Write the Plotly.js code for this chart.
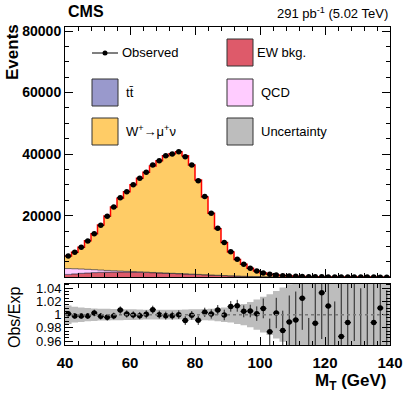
<!DOCTYPE html>
<html><head><meta charset="utf-8">
<script src="https://cdn.plot.ly/plotly-3.0.1.min.js"></script>
<style>html,body{margin:0;padding:0;background:#fff}</style>
</head><body>
<div id="chart" style="width:407px;height:395px"></div>
<script>
// ---- data ----
const mtBinEdges = [40,42,44,46,48,50,52,54,56,58,60,62,64,66,68,70,72,74,76,78,80,82,84,86,88,90,92,94,96,98,100,102,104,106,108,110,112,114,116,118,120,122,124,126,128,130,132,134,136,138,140];
const observed = [6900,8100,9750,11800,14150,16900,19800,22800,25850,27800,30050,32150,34100,36450,37850,39450,40050,40800,39150,36450,31350,26200,20800,15900,11300,8300,5850,4220,2920,2040,1400,970,750,520,400,300,240,190,160,130,110,95,85,75,65,60,55,50,45,40];
const wSignal = [4060,5350,7090,9250,11660,14600,17660,20730,23660,25850,28230,30450,32420,34620,36390,38140,38820,39600,38390,35460,30690,25270,20040,15140,10750,7720,5370,3870,2635,1820,1210,850,630,440,330,240,180,160,120,90,78,75,64,55,43,47,44,37,33,32];
const ewBkg = [900,1080,1250,1390,1500,1580,1640,1670,1680,1670,1640,1600,1540,1460,1380,1300,1220,1140,1060,970,880,790,700,610,520,440,370,300,240,190,150,120,95,75,60,48,40,33,28,24,21,18,16,14,12,11,10,9,8,7];
const ttbar = [30,32,34,36,38,40,42,44,45,46,47,48,48,49,49,49,49,48,47,46,45,43,41,39,37,35,33,31,29,27,25,23,21,19,17,15,14,13,12,11,10,9,8,7,6,6,5,5,4,4];
const qcd = [1900,1650,1400,1150,920,720,540,400,290,210,150,105,75,52,36,25,17,12,8,6,4,3,2,2,1,1,1,0,0,0,0,0,0,0,0,0,0,0,0,0,0,0,0,0,0,0,0,0,0,0];
const ratio = [1.0015,0.998,0.998,0.998,1.0025,0.9975,0.996,0.998,1.007,1.001,0.9995,0.9985,1.0005,1.0075,1.0,0.9985,0.9985,1.0,0.991,0.999,0.9915,1.0035,1.001,1.007,0.9995,1.0125,1.0135,1.005,1.0055,1.0015,1.0095,0.974,1.0025,0.976,0.989,0.992,1.025,0.935,0.987,1.033,1.013,0.93,0.967,0.988,1.06,0.94,0.93,0.988,1.010,0.92];
const ratioErr = [0.004,0.004,0.004,0.0045,0.005,0.005,0.005,0.005,0.0055,0.0055,0.0055,0.0055,0.006,0.006,0.006,0.006,0.006,0.0065,0.0065,0.0065,0.007,0.007,0.007,0.0075,0.008,0.008,0.009,0.009,0.0095,0.011,0.015,0.02,0.023,0.03,0.04,0.043,0.048,0.06,0.065,0.07,0.075,0.09,0.085,0.09,0.1,0.1,0.12,0.11,0.115,0.117];
const systUnc = [0.014,0.012,0.011,0.010,0.0095,0.009,0.009,0.0085,0.0085,0.008,0.008,0.0078,0.0075,0.0075,0.0075,0.0075,0.0075,0.0075,0.0078,0.008,0.008,0.0085,0.009,0.010,0.011,0.012,0.014,0.016,0.019,0.023,0.027,0.031,0.036,0.041,0.046,0.05,0.055,0.06,0.065,0.07,0.07,0.075,0.075,0.08,0.08,0.085,0.085,0.09,0.09,0.095];
const yTickVals = [20000,40000,60000,80000];
const rTickVals = [0.96,0.98,1,1.02,1.04];
const rTickText = ['0.96','0.98','1','1.02','1.04'];

// ---- helpers ----
const centers = observed.map((_, i) => (mtBinEdges[i] + mtBinEdges[i+1]) / 2);
const halfW = observed.map((_, i) => (mtBinEdges[i+1] - mtBinEdges[i]) / 2);
const step = v => v.concat([v[v.length-1]]);
const add = (a, b) => a.map((v, i) => v + b[i]);
const c1 = ewBkg, c2 = add(c1, ttbar), c3 = add(c2, qcd), c4 = add(c3, wSignal);

const FONT = 'Liberation Sans, Arial, Helvetica, sans-serif';
const L = 65, R = 390, T = 27, B = 345;
const px = x => (x - L) / (R - L);
const py = y => (B - y) / (B - T);

const traces = [
  {x: mtBinEdges, y: step(c1), type:'scatter', mode:'lines', line:{shape:'hv', color:'#4a1a20', width:0.7}, fill:'tozeroy', fillcolor:'#de5a6a', xaxis:'x', yaxis:'y', hoverinfo:'skip'},
  {x: mtBinEdges, y: step(c2), type:'scatter', mode:'lines', line:{shape:'hv', color:'#333355', width:0.5}, fill:'tonexty', fillcolor:'#9999cc', xaxis:'x', yaxis:'y', hoverinfo:'skip'},
  {x: mtBinEdges, y: step(c3), type:'scatter', mode:'lines', line:{shape:'hv', color:'#333333', width:0.7}, fill:'tonexty', fillcolor:'#ffccff', xaxis:'x', yaxis:'y', hoverinfo:'skip'},
  {x: mtBinEdges, y: step(c4), type:'scatter', mode:'lines', line:{shape:'hv', color:'#ff0000', width:1.5}, fill:'tonexty', fillcolor:'#ffcc66', xaxis:'x', yaxis:'y', hoverinfo:'skip'},
  {x: centers, y: observed, type:'scatter', mode:'markers', marker:{color:'#000', size:5.5}, error_x:{type:'data', array:halfW, color:'#000', thickness:1, width:0}, xaxis:'x', yaxis:'y'},
  {x: mtBinEdges, y: step(systUnc.map(u => 1 - u)), type:'scatter', mode:'lines', line:{shape:'hv', width:0, color:'rgba(0,0,0,0)'}, xaxis:'x2', yaxis:'y2', hoverinfo:'skip'},
  {x: mtBinEdges, y: step(systUnc.map(u => 1 + u)), type:'scatter', mode:'lines', line:{shape:'hv', width:0, color:'rgba(0,0,0,0)'}, fill:'tonexty', fillcolor:'#bdbdbd', xaxis:'x2', yaxis:'y2', hoverinfo:'skip'},
  {x: centers, y: ratio, type:'scatter', mode:'markers', marker:{color:'#000', size:5.5}, error_y:{type:'data', array:ratioErr, color:'#222', thickness:1, width:0}, error_x:{type:'data', array:halfW, color:'#000', thickness:1, width:0}, xaxis:'x2', yaxis:'y2'}
];

const axBase = {showline:true, linecolor:'#000', linewidth:1, mirror:'allticks', ticks:'inside', tickcolor:'#000', showgrid:false, zeroline:false};

const legendBoxes = [
  {x0:227, y0:39, color:'#de5a6a'},
  {x0:92, y0:79, color:'#9999cc'},
  {x0:227, y0:79, color:'#ffccff'},
  {x0:92, y0:118, color:'#ffcc66'},
  {x0:227, y0:118, color:'#bdbdbd'}
];
const shapes = legendBoxes.map(b => ({type:'rect', xref:'paper', yref:'paper', x0:px(b.x0), x1:px(b.x0+26), y0:py(b.y0), y1:py(b.y0+27), fillcolor:b.color, line:{color:'#333', width:1}}));
shapes.push({type:'line', xref:'paper', yref:'paper', x0:px(92), x1:px(118), y0:py(53), y1:py(53), line:{color:'#000', width:1}});
shapes.push({type:'circle', xref:'paper', yref:'paper', x0:px(102.5), x1:px(107.5), y0:py(55.5), y1:py(50.5), fillcolor:'#000', line:{color:'#000', width:0}});
shapes.push({type:'line', xref:'x2', yref:'y2', x0:40, x1:140, y0:1, y1:1, line:{color:'#777', width:1.5, dash:'3px,3px'}});

const ann = (x, y, text, size, opts) => Object.assign({xref:'paper', yref:'paper', x:px(x), y:py(y), text, showarrow:false, font:{family:FONT, size, color:'#000'}, xanchor:'left', yanchor:'middle'}, opts || {});
const annotations = [
  ann(120, 53, 'Observed', 13),
  ann(255, 53, 'EW bkg.', 13),
  ann(124, 93, 't<span>t\u0304</span>', 13),
  ann(259, 93, 'QCD', 13),
  ann(124, 131, 'W<sup>+</sup>\u2192\u03bc<sup>+</sup>\u03bd', 13),
  ann(259, 131, 'Uncertainty', 13),
  ann(66, 12, '<b>CMS</b>', 16),
  ann(390, 13, '291 pb<sup>-1</sup> (5.02 TeV)', 13, {xanchor:'right'}),
  ann(13, 52, '<b>Events</b>', 17, {xanchor:'center', textangle:-90}),
  ann(14, 318, 'Obs/Exp', 16, {xanchor:'center', textangle:-90}),
  ann(389, 382, '<b>M<sub>T</sub> (GeV)</b>', 17, {xanchor:'right'})
];

const layout = {
  width:407, height:395,
  margin:{l:L, r:407-R, t:T, b:395-B, pad:0},
  paper_bgcolor:'#fff', plot_bgcolor:'#fff',
  showlegend:false,
  font:{family:FONT, color:'#000'},
  xaxis: Object.assign({}, axBase, {domain:[0,1], anchor:'y', range:[40,140], tick0:40, dtick:20, ticklen:8, showticklabels:false, minor:{dtick:4, tick0:40, ticklen:4, ticks:'inside', tickcolor:'#000'}}),
  yaxis: Object.assign({}, axBase, {domain:[0.213,1], anchor:'x', range:[0,81300], tickmode:'array', tickvals:yTickVals, ticktext:yTickVals.map(String), ticklen:8, tickfont:{family:FONT, size:14, weight:'bold'}, minor:{tickmode:'linear', tick0:0, dtick:5000, ticklen:4, ticks:'inside', tickcolor:'#000'}}),
  xaxis2: Object.assign({}, axBase, {domain:[0,1], anchor:'y2', range:[40,140], tick0:40, dtick:20, ticklen:8, ticklabelstandoff:4, tickfont:{family:FONT, size:15, weight:'bold'}, minor:{dtick:4, tick0:40, ticklen:4, ticks:'inside', tickcolor:'#000'}}),
  yaxis2: Object.assign({}, axBase, {domain:[0,0.193], anchor:'x2', range:[0.954,1.047], tickmode:'array', tickvals:rTickVals, ticktext:rTickText, ticklen:8, tickfont:{family:FONT, size:13}, minor:{tickmode:'linear', tick0:0.95, dtick:0.005, ticklen:4, ticks:'inside', tickcolor:'#000'}}),
  shapes, annotations
};

Plotly.newPlot('chart', traces, layout, {displayModeBar:false, staticPlot:true});
</script>
</body></html>
